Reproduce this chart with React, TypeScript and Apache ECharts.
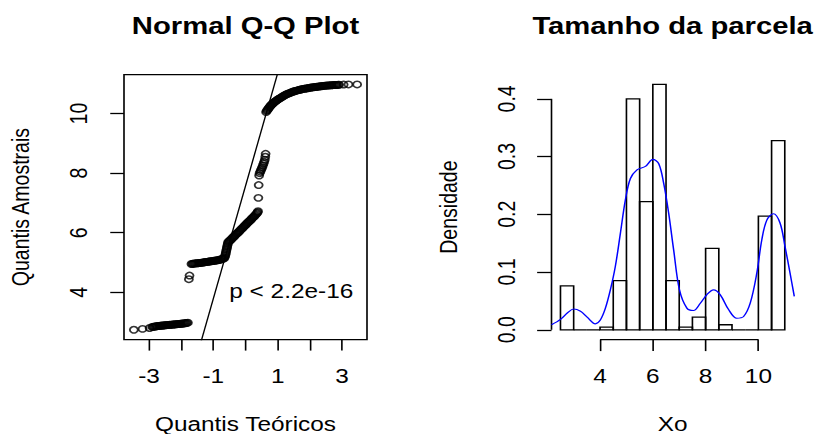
import React, { useEffect, useRef } from 'react';
import * as echarts from 'echarts';

const FONT = '"Liberation Sans", Arial, Helvetica, sans-serif';

// ---- Normal Q-Q plot -------------------------------------------------------
// [theoretical normal quantile, sorted sample value]
const qqQuantiles: [number, number][] = [
  // lower tail (~2.7 - 3.0)
  [-3.47, 2.74], [-3.2, 2.77], [-2.98, 2.8],
  [-2.9, 2.835], [-2.87, 2.84], [-2.84, 2.845], [-2.81, 2.85], [-2.78, 2.855], [-2.75, 2.86], [-2.72, 2.865],
  [-2.69, 2.87], [-2.66, 2.873], [-2.63, 2.876], [-2.6, 2.88], [-2.57, 2.883], [-2.54, 2.886], [-2.51, 2.89],
  [-2.48, 2.893], [-2.45, 2.896], [-2.42, 2.9], [-2.39, 2.903], [-2.36, 2.906], [-2.33, 2.909], [-2.3, 2.912],
  [-2.27, 2.915], [-2.24, 2.918], [-2.21, 2.921], [-2.18, 2.924], [-2.15, 2.927], [-2.12, 2.93], [-2.09, 2.933],
  [-2.06, 2.936], [-2.03, 2.94], [-2.0, 2.943], [-1.97, 2.947], [-1.94, 2.951], [-1.91, 2.955], [-1.88, 2.96],
  [-1.85, 2.965], [-1.82, 2.972], [-1.79, 2.98],
  // two isolated values near 4.5
  [-1.76, 4.44], [-1.74, 4.56],
  // cluster around 5.0
  [-1.68, 4.95], [-1.65, 4.955], [-1.62, 4.96], [-1.59, 4.965], [-1.56, 4.97], [-1.53, 4.972], [-1.5, 4.975],
  [-1.47, 4.978], [-1.44, 4.98], [-1.41, 4.985], [-1.38, 4.99], [-1.35, 4.995], [-1.32, 5.0], [-1.29, 5.005],
  [-1.26, 5.01], [-1.23, 5.015], [-1.2, 5.02], [-1.17, 5.025], [-1.14, 5.03], [-1.11, 5.035], [-1.08, 5.04],
  [-1.05, 5.045], [-1.02, 5.05], [-0.99, 5.055], [-0.96, 5.06], [-0.93, 5.065], [-0.9, 5.07], [-0.87, 5.075],
  [-0.84, 5.08], [-0.81, 5.09], [-0.78, 5.1], [-0.75, 5.11], [-0.72, 5.12], [-0.69, 5.13], [-0.66, 5.14],
  [-0.645, 5.18], [-0.63, 5.23], [-0.62, 5.28], [-0.61, 5.33], [-0.6, 5.38], [-0.59, 5.43], [-0.58, 5.48],
  [-0.57, 5.53], [-0.56, 5.58], [-0.55, 5.63], [-0.54, 5.68],
  // rising stretch 5.7 - 6.7
  [-0.515, 5.705], [-0.49, 5.73], [-0.465, 5.755], [-0.44, 5.78], [-0.415, 5.81], [-0.39, 5.84], [-0.365, 5.865],
  [-0.34, 5.89], [-0.315, 5.92], [-0.29, 5.95], [-0.265, 5.975], [-0.24, 6.0], [-0.215, 6.025], [-0.19, 6.05],
  [-0.165, 6.08], [-0.14, 6.11], [-0.115, 6.135], [-0.09, 6.16], [-0.065, 6.19], [-0.04, 6.22], [-0.015, 6.245],
  [0.01, 6.27], [0.035, 6.3], [0.06, 6.33], [0.085, 6.355], [0.11, 6.38], [0.135, 6.405], [0.16, 6.43],
  [0.185, 6.46], [0.21, 6.49], [0.235, 6.515], [0.26, 6.54], [0.285, 6.57], [0.31, 6.6], [0.335, 6.63],
  [0.36, 6.66], [0.375, 6.69], [0.39, 6.72],
  // sparse values 7 - 8.7
  [0.4, 7.17], [0.41, 7.6], [0.425, 7.92], [0.44, 8.0], [0.46, 8.05], [0.48, 8.1], [0.5, 8.15], [0.52, 8.2],
  [0.54, 8.26], [0.56, 8.32], [0.58, 8.38], [0.6, 8.45], [0.615, 8.55], [0.625, 8.65],
  // upper cluster 10 - 11
  [0.64, 10.05], [0.66, 10.09], [0.68, 10.12], [0.7, 10.15], [0.72, 10.18], [0.74, 10.21], [0.76, 10.24],
  [0.78, 10.265], [0.8, 10.29], [0.825, 10.315], [0.85, 10.34], [0.875, 10.365], [0.9, 10.39], [0.925, 10.41],
  [0.95, 10.43], [0.975, 10.45], [1.0, 10.47], [1.03, 10.49], [1.06, 10.51], [1.09, 10.53], [1.12, 10.55],
  [1.15, 10.57], [1.18, 10.59], [1.21, 10.61], [1.24, 10.63], [1.27, 10.645], [1.3, 10.66], [1.335, 10.675],
  [1.37, 10.69], [1.405, 10.705], [1.44, 10.72], [1.475, 10.735], [1.51, 10.75], [1.545, 10.76], [1.58, 10.77],
  [1.615, 10.78], [1.65, 10.79], [1.685, 10.8], [1.72, 10.81], [1.755, 10.82], [1.79, 10.83], [1.825, 10.835],
  [1.86, 10.84], [1.895, 10.845], [1.93, 10.85], [1.965, 10.86], [2.0, 10.87], [2.035, 10.875], [2.07, 10.88],
  [2.105, 10.885], [2.14, 10.89], [2.175, 10.895], [2.21, 10.9], [2.245, 10.905], [2.28, 10.91], [2.315, 10.915],
  [2.35, 10.92], [2.385, 10.925], [2.42, 10.93], [2.455, 10.935], [2.49, 10.94], [2.525, 10.942], [2.56, 10.945],
  [2.6, 10.948], [2.63, 10.95], [2.67, 10.952], [2.7, 10.955], [2.74, 10.958], [2.77, 10.96], [2.81, 10.962],
  [2.84, 10.965], [2.88, 10.968], [2.91, 10.97], [3.05, 10.975], [3.2, 10.98], [3.47, 10.98],
];
// reference line through the quartiles
const qqIntercept = 7.57;
const qqSlope = 3.786;
const qqXRange = [-3.776, 3.776];
const qqYRange = [2.41, 11.31];
const qqXTicks = [-3, -2, -1, 0, 1, 2, 3];
const qqXLabels = [-3, -1, 1, 3];
const qqYTicks = [4, 6, 8, 10];
const qqNote = 'p < 2.2e-16';

// ---- Histogram of Xo with kernel density ---------------------------------
const histBreaks = [2.5, 3, 3.5, 4, 4.5, 5, 5.5, 6, 6.5, 7, 7.5, 8, 8.5, 9, 9.5, 10, 10.5, 11];
const histDensity = [0.076, 0, 0, 0.0046, 0.085, 0.4, 0.222, 0.425, 0.085, 0.0046, 0.022, 0.141, 0.0087, 0, 0, 0.197, 0.3275];
const densityX = [
  2.16, 2.5, 2.78, 3.0, 3.26, 3.51, 3.82, 4.01, 4.2, 4.39, 4.58, 4.77, 4.96, 5.15, 5.4, 5.72, 6.0, 6.22, 6.41, 6.6,
  6.79, 7.01, 7.29, 7.54, 7.8, 8.05, 8.3, 8.55, 8.87, 9.18, 9.44, 9.69, 9.94, 10.13, 10.32, 10.57, 10.82, 11.01, 11.2, 11.36,
];
const densityY = [
  0.0087, 0.018, 0.03, 0.036, 0.032, 0.022, 0.0104, 0.017, 0.037, 0.069, 0.11, 0.167, 0.225, 0.262, 0.277, 0.283, 0.295,
  0.288, 0.254, 0.202, 0.138, 0.069, 0.0375, 0.0334, 0.046, 0.061, 0.069, 0.061, 0.035, 0.02, 0.023, 0.046, 0.098, 0.156,
  0.19, 0.201, 0.185, 0.144, 0.098, 0.058,
];
const histXRange = [2.16, 11.34];
const histYRange = [-0.017, 0.442];
const histXTicks = [4, 6, 8, 10];
const histYTicks = [0, 0.1, 0.2, 0.3, 0.4];

const TITLES = ['Normal Q-Q Plot', 'Tamanho da parcela'];

export default function App() {
  const ref = useRef<HTMLDivElement>(null);

  useEffect(() => {
    if (!ref.current) return;
    const chart = echarts.init(ref.current, null, { renderer: 'svg' });

    const axisText = { color: '#000', fontSize: 19.5, fontFamily: FONT };
    const tickLine = { color: '#000', width: 1.3 };
    const noLine = { show: false, onZero: false };

    const qqLine = qqXRange.map((t) => [t, qqIntercept + qqSlope * t]);
    const bins = histDensity.map((d, i) => [histBreaks[i], histBreaks[i + 1], d]);
    const densityLine = densityX.map((x, i) => [x, densityY[i]]);
    const xAxisSegment = [
      [histXTicks[0], histYRange[0]],
      [histXTicks[histXTicks.length - 1], histYRange[0]],
    ];
    const yAxisSegment = [
      [histXRange[0], histYTicks[0]],
      [histXRange[0], histYTicks[histYTicks.length - 1]],
    ];

    const grids = [
      { left: 99.2, top: 74.6, width: 194.4, height: 265 },
      { left: 441.2, top: 74.6, width: 193.8, height: 265 },
    ];

    chart.setOption({
      animation: false,
      backgroundColor: '#fff',
      grid: [
        {
          ...grids[0],
          outerBoundsMode: 'none',
          containLabel: false,
          show: true,
          borderColor: '#000',
          borderWidth: 1.3,
          backgroundColor: 'transparent',
        },
        { ...grids[1], outerBoundsMode: 'none', containLabel: false, show: false },
      ],
      xAxis: [
        {
          gridIndex: 0,
          type: 'value',
          min: qqXRange[0],
          max: qqXRange[1],
          axisLine: noLine,
          splitLine: { show: false },
          axisTick: { show: true, length: 11, lineStyle: tickLine, customValues: qqXTicks },
          axisLabel: { ...axisText, margin: 26.5, customValues: qqXLabels, formatter: (v: number) => String(v) },
          name: 'Quantis Teóricos',
          nameLocation: 'middle',
          nameGap: 74.5,
          nameTextStyle: axisText,
        },
        {
          gridIndex: 1,
          type: 'value',
          min: histXRange[0],
          max: histXRange[1],
          axisLine: noLine,
          splitLine: { show: false },
          axisTick: { show: true, length: 11.5, lineStyle: tickLine, customValues: histXTicks },
          axisLabel: { ...axisText, margin: 26.5, customValues: histXTicks, formatter: (v: number) => String(v) },
          name: 'Xo',
          nameLocation: 'middle',
          nameGap: 74.5,
          nameTextStyle: axisText,
        },
      ],
      yAxis: [
        {
          gridIndex: 0,
          type: 'value',
          min: qqYRange[0],
          max: qqYRange[1],
          axisLine: noLine,
          splitLine: { show: false },
          axisTick: { show: true, length: 11, lineStyle: tickLine, customValues: qqYTicks },
          axisLabel: { ...axisText, rotate: 90, margin: 26, customValues: qqYTicks, formatter: (v: number) => String(v) },
          name: 'Quantis Amostrais',
          nameLocation: 'middle',
          nameGap: 72.5,
          nameTextStyle: axisText,
        },
        {
          gridIndex: 1,
          type: 'value',
          min: histYRange[0],
          max: histYRange[1],
          axisLine: noLine,
          splitLine: { show: false },
          axisTick: { show: true, length: 11.5, lineStyle: tickLine, customValues: histYTicks },
          axisLabel: { ...axisText, rotate: 90, margin: 26, customValues: histYTicks, formatter: (v: number) => v.toFixed(1) },
          name: 'Densidade',
          nameLocation: 'middle',
          nameGap: 72.5,
          nameTextStyle: axisText,
        },
      ],
      series: [
        {
          type: 'scatter',
          xAxisIndex: 0,
          yAxisIndex: 0,
          data: qqQuantiles,
          symbol: 'circle',
          symbolSize: 6.4,
          itemStyle: { color: 'rgba(0,0,0,0)', borderColor: '#000', borderWidth: 1.5 },
          silent: true,
          z: 2,
        },
        {
          type: 'line',
          xAxisIndex: 0,
          yAxisIndex: 0,
          data: qqLine,
          symbol: 'none',
          lineStyle: { color: '#000', width: 1.1 },
          silent: true,
          clip: true,
          z: 3,
        },
        {
          type: 'custom',
          xAxisIndex: 1,
          yAxisIndex: 1,
          data: bins,
          encode: { x: [0, 1], y: 2 },
          silent: true,
          clip: false,
          renderItem: (_params: any, api: any) => {
            const x0 = api.value(0);
            const x1 = api.value(1);
            const h = api.value(2);
            const a = api.coord([x0, 0]);
            const b = api.coord([x1, h]);
            return {
              type: 'polygon',
              shape: { points: [[a[0], a[1]], [a[0], b[1]], [b[0], b[1]], [b[0], a[1]]] },
              style: { fill: 'none', stroke: '#000', lineWidth: 1.3 },
            };
          },
          z: 2,
        },
        {
          type: 'line',
          xAxisIndex: 1,
          yAxisIndex: 1,
          data: densityLine,
          symbol: 'none',
          smooth: 0.35,
          lineStyle: { color: '#0000ff', width: 1.2 },
          silent: true,
          clip: true,
          z: 3,
        },
        {
          type: 'line',
          xAxisIndex: 1,
          yAxisIndex: 1,
          data: xAxisSegment,
          symbol: 'none',
          lineStyle: { color: '#000', width: 1.3 },
          silent: true,
          clip: false,
          z: 1,
        },
        {
          type: 'line',
          xAxisIndex: 1,
          yAxisIndex: 1,
          data: yAxisSegment,
          symbol: 'none',
          lineStyle: { color: '#000', width: 1.3 },
          silent: true,
          clip: false,
          z: 1,
        },
      ],
      graphic: [
        {
          type: 'text',
          x: grids[0].left + grids[0].width / 2,
          y: 26,
          style: {
            text: TITLES[0],
            fill: '#000',
            fontSize: 23.4,
            fontWeight: 'bold',
            fontFamily: FONT,
            align: 'center',
            verticalAlign: 'middle',
          },
        },
        {
          type: 'text',
          x: grids[1].left + grids[1].width / 2,
          y: 26,
          style: {
            text: TITLES[1],
            fill: '#000',
            fontSize: 23.4,
            fontWeight: 'bold',
            fontFamily: FONT,
            align: 'center',
            verticalAlign: 'middle',
          },
        },
        {
          type: 'text',
          x: 282.6,
          y: 291.5,
          style: {
            text: qqNote,
            fill: '#000',
            fontSize: 19.5,
            fontFamily: FONT,
            align: 'right',
            verticalAlign: 'middle',
          },
        },
      ],
    });

    return () => chart.dispose();
  }, []);

  return (
    <div
      style={{
        position: 'fixed',
        left: 0,
        top: 0,
        width: 820,
        height: 434,
        overflow: 'hidden',
        background: '#fff',
      }}
    >
      <div
        ref={ref}
        style={{ width: 656, height: 434, transform: 'scaleX(1.25)', transformOrigin: '0 0' }}
      />
    </div>
  );
}
